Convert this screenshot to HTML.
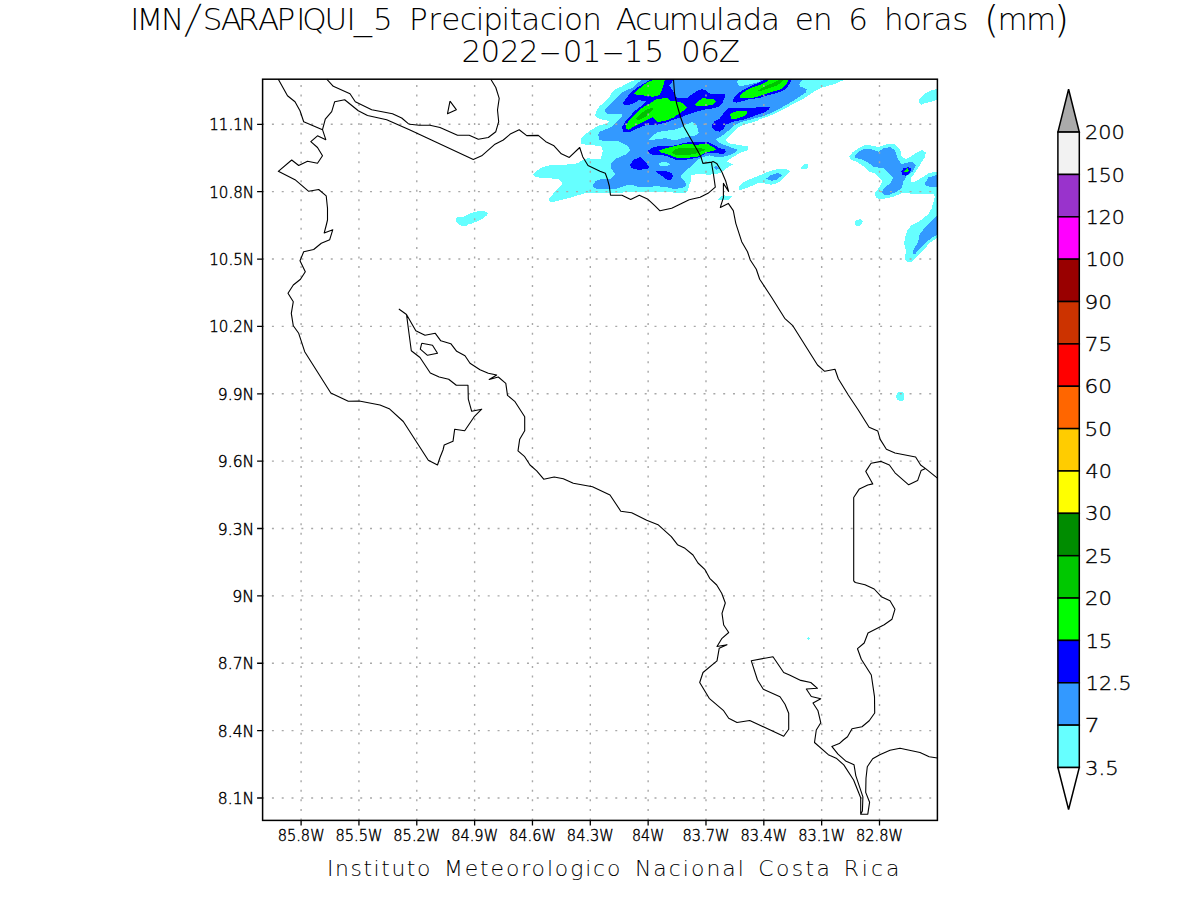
<!DOCTYPE html><html><head><meta charset="utf-8"><title>IMN SARAPIQUI_5 Precipitacion</title><style>html,body{margin:0;padding:0;background:#fff;width:1200px;height:900px;overflow:hidden}svg{display:block}text{font-family:"DejaVu Sans","Liberation Sans",sans-serif;font-weight:200;fill:#000}</style></head><body>
<svg width="1200" height="900" viewBox="0 0 1200 900">
<rect width="1200" height="900" fill="#fff"/>
<defs><clipPath id="pc"><rect x="262.6" y="79.2" width="674.80" height="741.20"/></clipPath></defs>
<g shape-rendering="crispEdges" clip-path="url(#pc)">
<path d="M637.5 78L845 78L844.2 79.8L835 84L822.5 87.3L814.2 91.5L804.2 98.2L793.3 104L780.8 110.7L768.3 116.5L760 119L756.7 121L743.3 125L736.7 128.3L735.3 130L732 134L726.7 138.7L726 140.7L729.3 143.3L740 145.3L748 146.3L748 150L739.3 153.3L731.3 158L726.7 161.3L730.7 163.3L732.7 164.5L728 167.3L722.7 171.3L719.3 173.3L709.3 174.7L697.3 174L691.3 175.3L691.3 180L689.3 184.7L688 190L686 192.5L680 192.7L640 191.7L618.7 192.7L600 192.5L586.7 192.7L580 194.7L566.7 198.7L554.7 201.7L550 201.7L548.7 199.3L554.7 192L561.3 185.3L562.7 182.7L558.7 179.3L550 178.3L536 177.3L533.3 174.7L536.7 170.7L542 167.3L549.3 165.3L572 164.3L578 163L584 159.3L588.7 158L593.3 159.3L600 159.4L601.3 157.3L602.7 151.3L602 148L600 146L585 144.6L580.6 143.4L580.6 139L585 134.6L591.7 129.6L598.3 125.7L606.7 123.7L609.3 121L599.4 119L595 115.7L596.1 111.2L600 105.7L604 103L608.7 98.3L611.3 93L616 89L622 86.3L628 83L634.7 80Z" fill="#66ffff"/>
<path d="M739 189.3L739.3 186L743.3 182L750 179.3L760 175.3L766.7 172L776.7 169.3L786.7 169L790 171.3L784 178L777.3 183.3L770.7 184.7L764 183.3L757.3 183.3L750 186.7L740 190Z" fill="#66ffff"/>
<path d="M718 200L721.5 196.3L724 195.4L732 196.3L729 199.5L722.5 200.6Z" fill="#66ffff"/>
<path d="M801 167.7L804.3 164L808 164L808 167.3L806.7 169L801.3 168.8Z" fill="#66ffff"/>
<path d="M456 218.3L457.3 217.1L463.8 216.5L467.5 215L471.3 213.1L474.2 212.1L478.3 211.3L484.6 211.3L486.7 212.3L487.9 213.8L486.7 215.4L483.3 218.3L479.2 220.4L474.2 222.5L470.8 223.8L467.5 224.8L466.7 225.8L462.5 225.8L459.2 225L456.3 221.7Z" fill="#66ffff"/>
<path d="M855 221.3L857 220.2L860.3 219L863 221.7L860 225.7L856.3 225.8L855 224.7Z" fill="#66ffff"/>
<path d="M896.1 395.6L897.2 393L898.3 392L902.8 392L903.9 394.2L903.9 399.4L902.8 400.8L899.2 400.8L897.2 399.7L896.1 397.8Z" fill="#66ffff"/>
<path d="M808 637L809 637L809 638L810 638L810 639L809 639L809 640L808 640L808 639L807 639L807 638L808 638Z" fill="#66ffff"/>
<path d="M919.2 103.2L919.2 99.8L925 93.6L931.7 90.3L936.7 89L938 89L938 99.8L936.7 99.8L931.7 101.5L925 103.2L920.8 104.8Z" fill="#66ffff"/>
<path d="M849.2 156.7L852.5 152.5L859.2 147.9L864.2 145.4L870.8 145.4L878.3 147.1L886.7 144.2L895 144.2L900 149.2L901.7 156.7L905.8 159.2L910.8 156.7L916.7 152.5L922.5 150L925.8 152.5L925 156.7L920 165L915 172.5L910.8 178.3L910.8 182.5L915 181.7L923.3 176.7L928.3 173.3L936.7 171.7L938 171.7L938 238.3L936.7 238.3L930 242.5L925 248.3L918.3 255L911.7 261.7L908.3 262.5L905 260L905.8 250L904.2 243.3L905 237.5L907.5 230L911.7 225L920 220.8L928.3 214.2L931.7 208.3L933.3 202.5L934 200L935 196.7L933.3 194.2L923.3 194.2L906.7 193.3L901.7 193.3L893.3 196.7L886.7 198.3L880 199.2L875.8 197.5L875 192.5L879.2 187.5L882.5 181.7L879.2 177.5L875 173.3L869.2 171.7L864.2 166.7L856.7 161.7L850.8 160Z" fill="#66ffff"/>
<path d="M642 78L802.5 78L802.5 79.8L799.2 84L800 86.5L806.7 89L805.8 92.3L797.5 98.2L785 105.7L772.5 112.3L764.2 115.7L760 117L750 119.7L740 122.3L733.3 125.7L729.3 130L722.7 135.3L716 139.3L719.3 142.7L725.3 145.3L732.7 148L738 150L734.7 152.7L729.3 155.3L722.7 156.7L716.7 157.3L709.3 155.3L704 156.7L698 159.3L692.7 165.3L686 170L681.3 175.3L681.3 178L685.3 182L686 185.3L682.7 188L676 188.7L673.3 188.7L666.7 187.3L655.3 186L652 186.7L637.3 186.7L633.3 185.3L626.7 185.3L620 187.3L616.7 188.7L600 189.3L595.3 188.3L593 186.7L592.7 185.3L595.3 181.3L600 179.3L610 179.3L615.3 174L611.3 168.7L611.3 163.3L616 158.7L626.7 154L630.7 150L626.7 145.3L618.7 141.3L604 141.3L599 139.5L598.3 134L600 131.5L606.7 129L613.5 125.5L617.5 121L621.3 117.7L622 114.3L606.7 113.7L604.7 111.7L605.3 109.7L609.3 105.7L613.3 101.7L616.7 97.7L622 92.3L628 89.7L632.5 87.8L637 83.5L641 80.5Z" fill="#3399ff"/>
<path d="M648 140L653.3 135.3L658 132L666.7 130.7L673.3 130L680 128L686 124.5L690 123L692.7 122L696.7 125L698.7 132.3L696 135.3L689.3 136.7L682.7 138L676 140L673.3 140L666.7 138.3L660 138.7L653.3 139.7Z" fill="#66ffff"/>
<path d="M658 164L661.3 162.3L666.7 162L670 164.3L666.7 166L661.3 166Z" fill="#66ffff"/>
<path d="M737.3 81.7L739.3 78L760 78L760.5 81.5L750 84.3L740.7 86.3L738 85Z" fill="#66ffff"/>
<path d="M713.3 167.3L716 166L718.7 168.7L716 170Z" fill="#3399ff"/>
<path d="M766 178.7L770.7 175.3L778 173L782 175.3L777.3 179.3L772 180.7Z" fill="#3399ff"/>
<path d="M854.2 157.1L858.3 151.7L864.2 149.2L870.8 149.2L878.3 151.7L883.3 148.3L890 147.1L895 150L897.5 158.3L901.7 164.2L911.7 161.7L915.8 165L912.5 171.7L906.7 175.8L903.3 181.7L901.7 188.3L896.7 191.7L888.3 195L884.2 195L881.7 192.5L884.2 188.3L890 183.3L893.3 178.3L888.3 173.3L883.3 168.3L873.3 166.7L868.3 162.5L860.8 159.2L855 157.9Z" fill="#3399ff"/>
<path d="M925 183.3L928.3 177.5L936.7 175L938 175L938 186.7L930 186.7L925.8 185.8Z" fill="#3399ff"/>
<path d="M938 215.8L936.7 215.8L930.8 221.7L924.2 228.3L919.2 235L918.3 241.7L914.2 248.3L912.5 253.3L915 254.2L920 248.3L926.7 241.7L933.3 236.7L938 234.2Z" fill="#3399ff"/>
<path d="M650.4 78L673 78L673.3 80L669.3 85.7L674 92.3L675.5 97L678 98L688 97.5L690 95.7L696.7 91L702 89L706 90.7L710.7 94.3L724.7 94.3L724.7 97.7L722.7 102.3L719.3 106.3L713.3 108.3L703.3 109.7L696.7 111.7L690 113.7L680 117.5L673.3 119.7L666.7 122.3L656.7 124.8L646.7 125L637.3 128.3L629.3 132.3L623.3 131.7L622 127L625.3 121.7L630 116.3L634.7 111L640 107L646.7 101L638.7 100.3L632 104.3L624.7 105L622.7 103L626.7 97.7L630 93L637 87.8L643.5 83.7L650 80Z" fill="#0000ff"/>
<path d="M732.7 99.7L736.7 94.3L743.3 89.7L750 86.3L758 83L765 79.5L766 78L792 78L791.7 79.8L788.3 85.7L785 89.8L776.7 93.2L766.7 95.7L760 97.9L750 99L743.3 101L736.7 102.7L733.3 101.7Z" fill="#0000ff"/>
<path d="M648 150.7L653.3 147.3L660 146L670 146L676 145.3L682.7 143.3L689.3 142L708 142L713.3 144.7L719.3 148L724.7 149.3L726 152L722.7 154L717.3 153.3L709.3 152.7L704 154.7L699.3 157.2L689.3 159.3L681.3 160L676 160L673.3 158.7L666.7 156L660 154.7L652 154.7L648.7 152.7Z" fill="#0000ff"/>
<path d="M630 164.7L633.3 160L640 157L643.3 159.3L649 166.7L648 169.3L637.3 169.7L631.3 168Z" fill="#0000ff"/>
<path d="M655.3 171.3L666.7 171.3L672 173.3L673 176L671.3 179.3L669.3 180L666 179.3L662 176L658 173.3Z" fill="#0000ff"/>
<path d="M712 125L714 121.7L719.3 119L723.3 113.7L728 108.3L736.7 108.3L750 108.3L760 107L770.8 106.5L768.3 109.8L763.3 113.2L760 113.7L753.3 116.3L743.3 119.7L733.3 121.7L725.3 125L724 129L719.3 131.7L714.7 130.3L712 127Z" fill="#0000ff"/>
<path d="M901.3 171.7L903.3 168.3L908.3 167.1L910.8 168.3L910.4 172.5L905.8 175.8L902.5 175Z" fill="#0000ff"/>
<path d="M634 93.3L637.5 90.3L641.8 86.3L647.5 82.3L653.2 80L653.6 78L665 78L664.7 80L662.7 87.7L660 94.3L656.7 96.3L652 96.7L642.7 95.3L637.3 95Z" fill="#00ff00"/>
<path d="M626 125L628 121.7L633.3 116.3L637.3 111.7L643.3 107L650.7 103L656.7 99L667.3 98L670.7 101L676 101.5L680 102L684 104L687 107.5L684 110.5L680 113L673.3 117.7L666.7 120.3L657.3 122.3L654.7 119L652.7 117L648.7 119L641.3 123L633.3 127L628.7 129.7L626 128.3Z" fill="#00ff00"/>
<path d="M695.3 104.3L698.7 101L702.7 98.3L713.3 99L716 101L712.7 104.7L707.3 105.7L696 106Z" fill="#00ff00"/>
<path d="M740 96.3L742 93L750 88.3L760 85L768 81L770.5 78L789 78L788.8 79.8L786.7 84L781.7 89L773.3 91.5L760 95.8L753.3 97.7L740.7 98Z" fill="#00ff00"/>
<path d="M730 114.3L733.3 112.3L738 111L746.7 111L746.7 114.3L742 117L736.7 118.7L731.3 118.7Z" fill="#00ff00"/>
<path d="M658.7 150.7L666.7 148L676 145.8L682.7 144.3L688 144.2L696 144.7L708 144L713.3 147.3L716 150L710.7 151.3L705.3 152.7L700 156L696 157L686.7 157.8L676 157.6L675.3 157.3L666.7 154L661.3 152.7Z" fill="#00ff00"/>
<path d="M904.2 171.7L907.5 168.3L908.8 170.8L906.7 172.5Z" fill="#00ff00"/>
<path d="M636 119L640 114.3L645.3 110.3L652 107.7L653.3 108.3L650.7 112.3L645.3 117L638.7 120.3Z" fill="#00c000"/>
<path d="M758 90.5L765 86.5L772.8 83L780 79.5L784 79.5L781.7 82.3L776.7 85.7L768.3 88.5L761.7 90.5Z" fill="#00c000"/>
<path d="M672 152.7L674.7 149.3L680 148L689.3 148L698 148L704 148.7L705.3 150L701.3 151.3L694.7 154L684 155.3L676 155.3L675.3 154.7Z" fill="#00c000"/>
</g>
<path d="M301.10 820.4V79.2M358.94 820.4V79.2M416.78 820.4V79.2M474.62 820.4V79.2M532.46 820.4V79.2M590.30 820.4V79.2M648.14 820.4V79.2M705.98 820.4V79.2M763.82 820.4V79.2M821.66 820.4V79.2M879.50 820.4V79.2" stroke="#a8a8a8" stroke-width="1.4" stroke-dasharray="2 7.525" fill="none"/>
<path d="M262.1 798.00H937.4M262.1 730.63H937.4M262.1 663.26H937.4M262.1 595.89H937.4M262.1 528.52H937.4M262.1 461.15H937.4M262.1 393.78H937.4M262.1 326.41H937.4M262.1 259.04H937.4M262.1 191.67H937.4M262.1 124.30H937.4" stroke="#a8a8a8" stroke-width="1.4" stroke-dasharray="2 7.81" fill="none"/>
<path d="M278.3 79.2L287.5 95.8L295 101.7L300 110.8L303.7 121.7L322.5 129.7L325.8 139.7L317.5 135.8L310.8 141.7L317.5 147.5L322.5 155.8L317.5 163.3L307.5 161.3L298.7 165.5L291.7 160L278.3 171.3L295 179.7L308.7 191.3L318.7 189.5L326.2 195.8L327.5 208.3L327.5 220L326.3 225L324.2 233L332.8 229.7L329.7 239.7L321.3 243.3L313.7 249.5L303.7 251.7L300 260.8L305.3 271.7L300.5 279.2L293.3 285L288 293.3L293.3 301.7L291.3 313.3L293.3 325.8L298.7 333.3L304.7 351.7L330.8 393L348.3 401.3L359.2 401L380 405L389.2 408.7L403.3 421.5L428.3 460.3L437.5 465L440 457.5L443 450L444.2 445L453 441.3L454.7 429.2L464.7 430.8L474.2 416.7L481.7 409.2L471.7 411.3L468.3 399.2L468 385.3L456.3 385.3L448.7 379.2L439.2 377L430.3 373L420 357.5L411.3 350.8L406.5 314.5L399.2 309.2L406.5 314.5L415.8 330.8L425 335.3L435.3 333.3L440.8 340.8L450.8 343.7L456.7 351.3L465 355.8L470 363.3L480 369.7L488.3 373.3L496.7 375L489.2 379.5L498.3 377L505.8 383.3L507.5 395.3L514.7 401.3L524.7 416.7L524.7 430.8L519.7 439.2L518 450.8L524.7 456.7L530 465L536.7 470.8L543.7 479.2L554.2 477L563.3 478.7L573.3 483.3L592.5 486.7L610 495L620.8 511.2L631.7 512.8L646.7 520.3L658 524.7L671.3 536.7L677.5 544.7L685 548.3L693 555L698 563L705 569.7L709.7 578.3L716.7 585L721.7 593.3L725.3 603L722 613.3L723.7 625L728.7 632.5L722 638.3L717 646.5L727 644.7L719.2 648.3L717 660.8L703 672.5L699.7 682.5L709.2 698.3L723.3 710.3L728.7 718.3L737 722.5L749.7 720.5L783.7 736.3L788.7 729.2L788.7 713.3L785 704.2L780 696.7L763.3 689.2L757.5 680L751.3 660.8L773 656.7L783.7 672.5L790 675.3L800.8 680.4L810.8 682.5L817.5 688.3L806.3 689L811.3 696.5L820.8 698.7L813 703L818 710.8L820.8 722.8L816.3 730L814.5 742.5L828.3 754.7L830 755.6L836.2 758.2L843.8 764.9L853.6 780L860.7 797.8L860.7 814.2L867.8 814.2L869.6 802.2L865.7 792.4L866 778.2L867.3 766.7L872.7 758.7L879.8 754.7L890 750.2L900 748.3L920 752.5L929.2 756.7L937.4 758M322.5 129.7L325.3 119.2L331.7 111.7L334.7 101.7L344.7 99.7L358.3 110.8L367.5 115.5L386.7 119.7L410 130L473.3 159.5L481.7 155.8L495 144.2L503.3 140L510.8 133.7L519.2 129.7L526.7 135.6L538.3 135.4L545.8 141.7L554 145.8L561.3 153.8L569.3 157.4L579.7 147.5L582.7 156.7L588 165.5L600 171.3L605.3 173.3L607.3 178.7L609.3 186L610.5 195.3L622 195.3L630.7 199.5L639.3 195.3L648 199.3L655 205.8L660 210.8L671.7 208.3L689.2 199.7L700.1 197.3L708 193.3L715.3 187.2L713.5 174.5L711.7 164.1L711.7 162.3M673.5 79.2L674.5 93L676.5 103L680.5 117L684 127L692 141L697.2 150L700.8 156.5L702.9 163.4L711.7 162.1L713.1 161.6L716.7 163.4L721.8 171.7L725.7 181L728.6 191.5L723.4 183.4L723.4 197.7L720.3 207.4L728.3 203.4L733.3 210.6L735.8 223.3L741.7 241.7L747.5 251.7L750.3 260L756.3 269.2L759.7 279.2L771.7 297.5L784.7 318.3L792.5 325.3L817.5 365L824.7 371.3L835 369.2L838.3 378.7L848.3 395L858.3 410L869.1 427.2L877.8 431.1L880.2 439.4L886.4 449.2L895 453L915.6 457L920.6 465L925.6 468.6L937.4 478.1M925.6 468.6L921.1 470.6L917.6 480.6L908.7 484.8L895 472.8L889.4 465L881.1 461.4L871.1 463.3L865.8 471.4L872.8 483.9L867.8 485L859.4 488.9L853.7 497.5L853.7 580.8L855.3 582.5L865 584.7L874.2 589L881.3 596.7L890 600.8L895 609.2L892 619.2L884.2 624.7L868 633L864.2 643L857.5 648.7L861.3 659.2L871.3 675L874.5 696.7L874.7 713L869.2 720.8L862 726.7L852 728.7L847.5 736.7L843.3 740L839.3 743.6L831.8 746.4L838 754.2L845.6 760.9L854 764.7L855.8 775.6L862.9 796.9L862.4 811.1L860.7 814.2M326.7 79.2L333.3 86.3L350 93.7L355.3 101.7L371.7 109.7L392.5 113.7L401.7 118L408.3 123.7L410 124.2L419.2 125.3L430 125.3L440 127.5L457.5 135.3L469.2 135.3L478.3 139.2L488.3 137.5L495.8 131.7L498.7 121.7L497.5 110L499.2 98.3L495.8 87.5L490.8 79.2M450 101.2L456.3 109.7L447.5 113.7L450 101.2M421.7 343.3L432.5 345.3L437.5 353.3L427.5 355.3L420.3 349.2L421.7 343.3" fill="none" stroke="#000" stroke-width="1.1" stroke-linejoin="round"/>
<rect x="262.6" y="79.2" width="674.80" height="741.20" fill="none" stroke="#000" stroke-width="1.5"/>
<path d="M301.10 820.4V825.5M358.94 820.4V825.5M416.78 820.4V825.5M474.62 820.4V825.5M532.46 820.4V825.5M590.30 820.4V825.5M648.14 820.4V825.5M705.98 820.4V825.5M763.82 820.4V825.5M821.66 820.4V825.5M879.50 820.4V825.5M257.1 798.00H262.6M257.1 730.63H262.6M257.1 663.26H262.6M257.1 595.89H262.6M257.1 528.52H262.6M257.1 461.15H262.6M257.1 393.78H262.6M257.1 326.41H262.6M257.1 259.04H262.6M257.1 191.67H262.6M257.1 124.30H262.6" stroke="#000" stroke-width="1.3" fill="none"/>
<text y="30.0" font-size="31"><tspan x="130.19" y="30.0">I</tspan><tspan x="136.55" y="30.0">M</tspan><tspan x="160.93" y="30.0">N</tspan></text><text x="0" y="0" font-size="31" transform="translate(184.9 33.26) scale(1 1.29) skewX(-15.8)">/</text><text y="30.0" font-size="31"><tspan x="202.77" y="30.0">S</tspan><tspan x="220.71" y="30.0">A</tspan><tspan x="237.71" y="30.0">R</tspan><tspan x="257.89" y="30.0">A</tspan><tspan x="276.38" y="30.0">P</tspan><tspan x="296.27" y="30.0">I</tspan><tspan x="302.35" y="30.0">Q</tspan><tspan x="324.54" y="30.0">U</tspan><tspan x="346.39" y="30.0">I</tspan><tspan x="353.67" y="30.0" textLength="18.26" lengthAdjust="spacingAndGlyphs">_</tspan><tspan x="373.11" y="30.0">5</tspan><tspan> </tspan><tspan x="408.9" y="30.0">P</tspan><tspan x="428.34" y="30.0">r</tspan><tspan x="441.26" y="30.0">e</tspan><tspan x="459.73" y="30.0">c</tspan><tspan x="475.64" y="30.0">i</tspan><tspan x="483.34" y="30.0">p</tspan><tspan x="501.59" y="30.0">i</tspan><tspan x="509.65" y="30.0">t</tspan><tspan x="521.36" y="30.0">a</tspan><tspan x="539.73" y="30.0">c</tspan><tspan x="555.97" y="30.0">i</tspan><tspan x="564.06" y="30.0">o</tspan><tspan x="582.25" y="30.0">n</tspan><tspan> </tspan><tspan x="615.84" y="30.0">A</tspan><tspan x="635.03" y="30.0">c</tspan><tspan x="651.86" y="30.0">u</tspan><tspan x="668.79" y="30.0">m</tspan><tspan x="698.14" y="30.0">u</tspan><tspan x="715.97" y="30.0">l</tspan><tspan x="724.79" y="30.0">a</tspan><tspan x="742.4" y="30.0">d</tspan><tspan x="761.04" y="30.0">a</tspan><tspan> </tspan><tspan x="794.66" y="30.0">e</tspan><tspan x="812.9" y="30.0">n</tspan><tspan> </tspan><tspan x="848.28" y="30.0">6</tspan><tspan> </tspan><tspan x="884.12" y="30.0">h</tspan><tspan x="902.81" y="30.0">o</tspan><tspan x="920.52" y="30.0">r</tspan><tspan x="933.54" y="30.0">a</tspan><tspan x="952.33" y="30.0">s</tspan><tspan> </tspan></text><text x="0" y="0" font-size="31" transform="translate(983.98 31.6) scale(1.25 1.2)">(</text><text y="30.0" font-size="31"><tspan x="997.47" y="30.0">m</tspan><tspan x="1025.99" y="30.0">m</tspan></text><text x="0" y="0" font-size="31" transform="translate(1053.98 31.6) scale(1.25 1.2)">)</text>
<text y="61.8" font-size="31"><tspan x="461.48" y="61.8">2</tspan><tspan x="480.61" y="61.8">0</tspan><tspan x="499.93" y="61.8">2</tspan><tspan x="518.98" y="61.8">2</tspan><tspan x="538.16" y="61.8" textLength="23.77" lengthAdjust="spacingAndGlyphs">-</tspan><tspan x="562.81" y="61.8">0</tspan><tspan x="581.65" y="61.8">1</tspan><tspan x="601.31" y="61.8" textLength="23.77" lengthAdjust="spacingAndGlyphs">-</tspan><tspan x="623.82" y="61.8">1</tspan><tspan x="644.39" y="61.8">5</tspan><tspan> </tspan><tspan x="680.91" y="61.8">0</tspan><tspan x="700.15" y="61.8">6</tspan><tspan x="718.66" y="61.8">Z</tspan></text>
<text x="326.90" y="876.30" font-size="21.9" textLength="103.55" lengthAdjust="spacing">Instituto</text>
<text x="444.00" y="876.30" font-size="21.9" textLength="176.45" lengthAdjust="spacing">Meteorologico</text>
<text x="634.90" y="876.30" font-size="21.9" textLength="108.93" lengthAdjust="spacing">Nacional</text>
<text x="758.20" y="876.30" font-size="21.9" textLength="71.72" lengthAdjust="spacing">Costa</text>
<text x="843.65" y="876.30" font-size="21.9" textLength="55.77" lengthAdjust="spacing">Rica</text>
<text x="277.66" y="840.50" font-size="16.3" textLength="46.90" lengthAdjust="spacingAndGlyphs" stroke="#000" stroke-width="0.45">85.8W</text>
<text x="335.50" y="840.50" font-size="16.3" textLength="46.90" lengthAdjust="spacingAndGlyphs" stroke="#000" stroke-width="0.45">85.5W</text>
<text x="393.34" y="840.50" font-size="16.3" textLength="46.90" lengthAdjust="spacingAndGlyphs" stroke="#000" stroke-width="0.45">85.2W</text>
<text x="451.18" y="840.50" font-size="16.3" textLength="46.90" lengthAdjust="spacingAndGlyphs" stroke="#000" stroke-width="0.45">84.9W</text>
<text x="509.02" y="840.50" font-size="16.3" textLength="46.90" lengthAdjust="spacingAndGlyphs" stroke="#000" stroke-width="0.45">84.6W</text>
<text x="566.86" y="840.50" font-size="16.3" textLength="46.90" lengthAdjust="spacingAndGlyphs" stroke="#000" stroke-width="0.45">84.3W</text>
<text x="632.08" y="840.50" font-size="16.3" textLength="32.13" lengthAdjust="spacingAndGlyphs" stroke="#000" stroke-width="0.45">84W</text>
<text x="682.54" y="840.50" font-size="16.3" textLength="46.90" lengthAdjust="spacingAndGlyphs" stroke="#000" stroke-width="0.45">83.7W</text>
<text x="740.38" y="840.50" font-size="16.3" textLength="46.90" lengthAdjust="spacingAndGlyphs" stroke="#000" stroke-width="0.45">83.4W</text>
<text x="798.22" y="840.50" font-size="16.3" textLength="46.90" lengthAdjust="spacingAndGlyphs" stroke="#000" stroke-width="0.45">83.1W</text>
<text x="856.06" y="840.50" font-size="16.3" textLength="46.90" lengthAdjust="spacingAndGlyphs" stroke="#000" stroke-width="0.45">82.8W</text>
<text x="217.82" y="804.00" font-size="16.3" textLength="36.36" lengthAdjust="spacingAndGlyphs" stroke="#000" stroke-width="0.45">8.1N</text>
<text x="217.82" y="736.63" font-size="16.3" textLength="36.36" lengthAdjust="spacingAndGlyphs" stroke="#000" stroke-width="0.45">8.4N</text>
<text x="217.82" y="669.26" font-size="16.3" textLength="36.36" lengthAdjust="spacingAndGlyphs" stroke="#000" stroke-width="0.45">8.7N</text>
<text x="232.29" y="601.89" font-size="16.3" textLength="21.93" lengthAdjust="spacingAndGlyphs" stroke="#000" stroke-width="0.45">9N</text>
<text x="217.82" y="534.52" font-size="16.3" textLength="36.36" lengthAdjust="spacingAndGlyphs" stroke="#000" stroke-width="0.45">9.3N</text>
<text x="217.82" y="467.15" font-size="16.3" textLength="36.36" lengthAdjust="spacingAndGlyphs" stroke="#000" stroke-width="0.45">9.6N</text>
<text x="217.82" y="399.78" font-size="16.3" textLength="36.36" lengthAdjust="spacingAndGlyphs" stroke="#000" stroke-width="0.45">9.9N</text>
<text x="209.17" y="332.41" font-size="16.3" textLength="44.94" lengthAdjust="spacingAndGlyphs" stroke="#000" stroke-width="0.45">10.2N</text>
<text x="209.17" y="265.04" font-size="16.3" textLength="44.94" lengthAdjust="spacingAndGlyphs" stroke="#000" stroke-width="0.45">10.5N</text>
<text x="209.17" y="197.67" font-size="16.3" textLength="44.94" lengthAdjust="spacingAndGlyphs" stroke="#000" stroke-width="0.45">10.8N</text>
<text x="209.17" y="130.30" font-size="16.3" textLength="44.94" lengthAdjust="spacingAndGlyphs" stroke="#000" stroke-width="0.45">11.1N</text>
<text x="1085.07" y="139.20" font-size="19.0" textLength="39.78" lengthAdjust="spacingAndGlyphs" stroke="#000" stroke-width="0.35">200</text>
<text x="1085.85" y="181.56" font-size="19.0" textLength="38.96" lengthAdjust="spacingAndGlyphs" stroke="#000" stroke-width="0.35">150</text>
<text x="1085.85" y="223.92" font-size="19.0" textLength="38.96" lengthAdjust="spacingAndGlyphs" stroke="#000" stroke-width="0.35">120</text>
<text x="1085.85" y="266.28" font-size="19.0" textLength="38.96" lengthAdjust="spacingAndGlyphs" stroke="#000" stroke-width="0.35">100</text>
<text x="1084.46" y="308.64" font-size="19.0" textLength="27.46" lengthAdjust="spacingAndGlyphs" stroke="#000" stroke-width="0.35">90</text>
<text x="1084.79" y="351.00" font-size="19.0" textLength="27.60" lengthAdjust="spacingAndGlyphs" stroke="#000" stroke-width="0.35">75</text>
<text x="1084.46" y="393.36" font-size="19.0" textLength="27.46" lengthAdjust="spacingAndGlyphs" stroke="#000" stroke-width="0.35">60</text>
<text x="1084.46" y="435.72" font-size="19.0" textLength="27.46" lengthAdjust="spacingAndGlyphs" stroke="#000" stroke-width="0.35">50</text>
<text x="1085.52" y="478.08" font-size="19.0" textLength="26.32" lengthAdjust="spacingAndGlyphs" stroke="#000" stroke-width="0.35">40</text>
<text x="1084.94" y="520.44" font-size="19.0" textLength="26.94" lengthAdjust="spacingAndGlyphs" stroke="#000" stroke-width="0.35">30</text>
<text x="1085.03" y="562.80" font-size="19.0" textLength="27.33" lengthAdjust="spacingAndGlyphs" stroke="#000" stroke-width="0.35">25</text>
<text x="1085.06" y="605.16" font-size="19.0" textLength="26.81" lengthAdjust="spacingAndGlyphs" stroke="#000" stroke-width="0.35">20</text>
<text x="1085.81" y="647.52" font-size="19.0" textLength="26.48" lengthAdjust="spacingAndGlyphs" stroke="#000" stroke-width="0.35">15</text>
<text x="1085.84" y="689.88" font-size="19.0" textLength="45.72" lengthAdjust="spacingAndGlyphs" stroke="#000" stroke-width="0.35">12.5</text>
<text x="1084.65" y="732.24" font-size="19.0" textLength="14.93" lengthAdjust="spacingAndGlyphs" stroke="#000" stroke-width="0.35">7</text>
<text x="1084.94" y="774.60" font-size="19.0" textLength="33.69" lengthAdjust="spacingAndGlyphs" stroke="#000" stroke-width="0.35">3.5</text>
<path d="M1057.9 132.1L1068.6 89.3L1079.3 132.1Z" fill="#aaa" stroke="#000" stroke-width="1.5" stroke-linejoin="miter"/>
<rect x="1057.9" y="132.10" width="21.40" height="42.36" fill="#f2f2f2" stroke="#000" stroke-width="1.5"/>
<rect x="1057.9" y="174.46" width="21.40" height="42.36" fill="#9933cc" stroke="#000" stroke-width="1.5"/>
<rect x="1057.9" y="216.82" width="21.40" height="42.36" fill="#ff00ff" stroke="#000" stroke-width="1.5"/>
<rect x="1057.9" y="259.18" width="21.40" height="42.36" fill="#990000" stroke="#000" stroke-width="1.5"/>
<rect x="1057.9" y="301.54" width="21.40" height="42.36" fill="#cc3300" stroke="#000" stroke-width="1.5"/>
<rect x="1057.9" y="343.90" width="21.40" height="42.36" fill="#ff0000" stroke="#000" stroke-width="1.5"/>
<rect x="1057.9" y="386.26" width="21.40" height="42.36" fill="#ff6600" stroke="#000" stroke-width="1.5"/>
<rect x="1057.9" y="428.62" width="21.40" height="42.36" fill="#ffcc00" stroke="#000" stroke-width="1.5"/>
<rect x="1057.9" y="470.98" width="21.40" height="42.36" fill="#ffff00" stroke="#000" stroke-width="1.5"/>
<rect x="1057.9" y="513.34" width="21.40" height="42.36" fill="#008c00" stroke="#000" stroke-width="1.5"/>
<rect x="1057.9" y="555.70" width="21.40" height="42.36" fill="#00c800" stroke="#000" stroke-width="1.5"/>
<rect x="1057.9" y="598.06" width="21.40" height="42.36" fill="#00ff00" stroke="#000" stroke-width="1.5"/>
<rect x="1057.9" y="640.42" width="21.40" height="42.36" fill="#0000ff" stroke="#000" stroke-width="1.5"/>
<rect x="1057.9" y="682.78" width="21.40" height="42.36" fill="#3399ff" stroke="#000" stroke-width="1.5"/>
<rect x="1057.9" y="725.14" width="21.40" height="42.36" fill="#66ffff" stroke="#000" stroke-width="1.5"/>
<path d="M1057.9 767.5L1068.6 809.5L1079.3 767.5Z" fill="#fff" stroke="#000" stroke-width="1.5"/>
</svg></body></html>
